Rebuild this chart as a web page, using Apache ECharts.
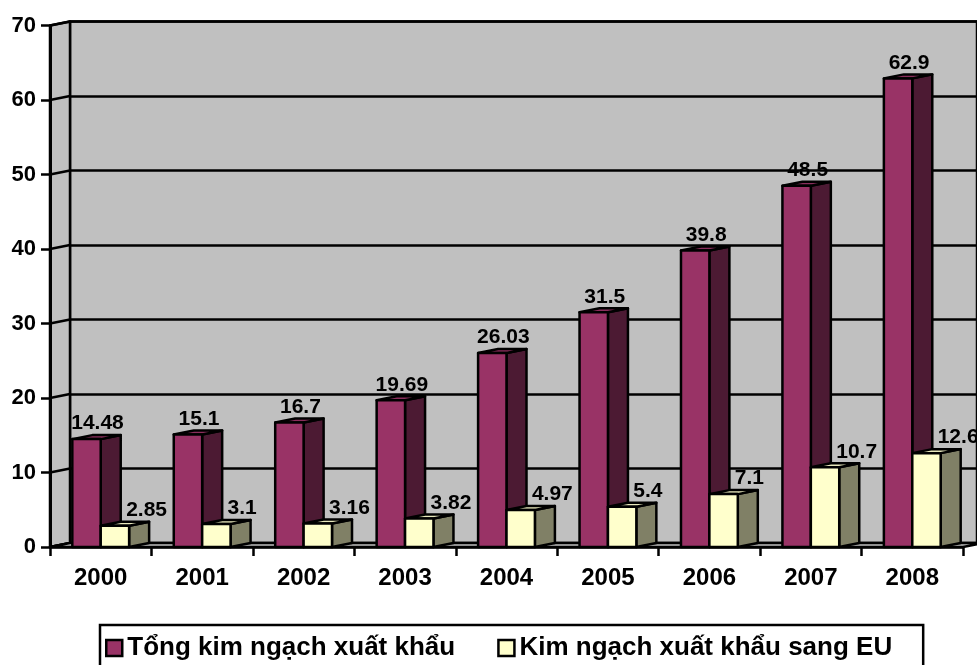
<!DOCTYPE html>
<html>
<head>
<meta charset="utf-8">
<script src="https://cdn.jsdelivr.net/npm/echarts@6/dist/echarts.min.js"></script>
<style>
  html, body { margin: 0; padding: 0; background: #fff; }
  #chart { width: 977px; height: 665px; }
</style>
</head>
<body>
<div id="chart"></div>
<script>
// Years on the category axis
const years = ['2000', '2001', '2002', '2003', '2004', '2005', '2006', '2007', '2008'];
// Total export turnover (billion USD)
const totalExport = [14.48, 15.1, 16.7, 19.69, 26.03, 31.5, 39.8, 48.5, 62.9];
// Export turnover to the EU (billion USD)
const euExport = [2.85, 3.1, 3.16, 3.82, 4.97, 5.4, 7.1, 10.7, 12.6];
// Value-axis ticks
const yTicks = [0, 10, 20, 30, 40, 50, 60, 70];

const seriesNames = ['Tổng kim ngạch xuất khẩu', 'Kim ngạch xuất khẩu sang EU'];

// Oblique projection offset used for the depth of walls and columns
const DX = 20, DY = -4;
const FONT = "'Liberation Sans', Arial, sans-serif";
const STROKE = { stroke: '#000', lineWidth: 2.5, lineJoin: 'round' };

const yMin = yTicks[0], yMax = yTicks[yTicks.length - 1];
const yStep = yTicks[1] - yTicks[0];

// Side wall, floor and the slanted tick connectors
function renderWalls(params, api) {
  const w = api.size([1, 0])[0];
  const first = api.coord([0, yMin]);
  const last = api.coord([years.length - 1, yMin]);
  const xl = first[0] - w / 2;
  const xr = last[0] + w / 2;
  const y0 = first[1];
  const yTop = api.coord([0, yMax])[1];
  const children = [];
  children.push({
    type: 'polygon',
    shape: { points: [[xl, yTop], [xl + DX, yTop + DY], [xl + DX, y0 + DY], [xl, y0]] },
    style: Object.assign({ fill: '#c0c0c0' }, STROKE)
  });
  yTicks.forEach(function (t) {
    const y = api.coord([0, t])[1];
    children.push({
      type: 'line',
      shape: { x1: xl, y1: y, x2: xl + DX, y2: y + DY },
      style: STROKE
    });
  });
  children.push({
    type: 'polygon',
    shape: { points: [[xl, y0], [xr, y0], [xr + DX, y0 + DY], [xl + DX, y0 + DY]] },
    style: Object.assign({ fill: '#c0c0c0' }, STROKE)
  });
  return { type: 'group', children: children };
}

// Column with front, side and top faces plus its value label
function makeColumnRenderer(leftOfCenter, colors, labelLeft) {
  return function (params, api) {
    const i = api.value(0);
    const v = api.value(1);
    const base = api.coord([i, 0]);
    const top = api.coord([i, v]);
    const w = api.size([1, 0])[0];
    const bw = w * 0.28;
    const x0 = leftOfCenter ? base[0] - bw : base[0];
    const x1 = x0 + bw;
    const yT = top[1], yB = base[1];
    const children = [
      {
        type: 'polygon',
        shape: { points: [[x1, yT], [x1 + DX, yT + DY], [x1 + DX, yB + DY], [x1, yB]] },
        style: Object.assign({ fill: colors.side }, STROKE)
      },
      {
        type: 'polygon',
        shape: { points: [[x0, yT], [x0 + DX, yT + DY], [x1 + DX, yT + DY], [x1, yT]] },
        style: Object.assign({ fill: colors.top }, STROKE)
      },
      {
        type: 'rect',
        shape: { x: x0, y: yT, width: bw, height: yB - yT },
        style: Object.assign({ fill: colors.front }, STROKE)
      },
      {
        type: 'text',
        style: {
          text: String(v),
          x: labelLeft ? x1 - 3 : (x0 + x1 + DX) / 2 + 1,
          y: yT + DY - 1,
          align: labelLeft ? 'left' : 'center',
          verticalAlign: 'bottom',
          fontFamily: FONT,
          fontWeight: 'bold',
          fontSize: 21,
          fill: '#000'
        }
      }
    ];
    return { type: 'group', children: children };
  };
}

const chart = echarts.init(document.getElementById('chart'), null, { renderer: 'canvas' });

const option = {
  animation: false,
  backgroundColor: '#fff',
  grid: [
    { left: 50, top: 25.5, width: 913, height: 521.5, show: false },
    { left: 70, top: 21.5, width: 913, height: 521.5, show: true,
      backgroundColor: '#c0c0c0', borderColor: '#000', borderWidth: 2.5 }
  ],
  xAxis: [
    {
      type: 'category', gridIndex: 0, data: years, z: 5,
      axisLine: { lineStyle: { color: '#000', width: 2.5 } },
      axisTick: { show: true, length: 9, lineStyle: { color: '#000', width: 2.5 } },
      axisLabel: { color: '#000', fontFamily: FONT, fontWeight: 'bold', fontSize: 24, margin: 19 },
      splitLine: { show: false }
    },
    {
      type: 'category', gridIndex: 1, data: years,
      axisLine: { show: false }, axisTick: { show: false }, axisLabel: { show: false },
      splitLine: { show: false }
    }
  ],
  yAxis: [
    {
      type: 'value', gridIndex: 0, min: yMin, max: yMax, interval: yStep, z: 5,
      axisLine: { show: true, lineStyle: { color: '#000', width: 3 } },
      axisTick: { show: true, length: 9, lineStyle: { color: '#000', width: 2.5 } },
      axisLabel: { color: '#000', fontFamily: FONT, fontWeight: 'bold', fontSize: 22, margin: 14 },
      splitLine: { show: false }
    },
    {
      type: 'value', gridIndex: 1, min: yMin, max: yMax, interval: yStep,
      axisLine: { show: false }, axisTick: { show: false }, axisLabel: { show: false },
      splitLine: { show: true, lineStyle: { color: '#000', width: 2.5 } }
    }
  ],
  legend: {
    data: seriesNames,
    left: 100, top: 625,
    icon: 'rect',
    itemWidth: 16, itemHeight: 16, itemGap: 42,
    padding: [10, 31, 12, 5],
    borderColor: '#000', borderWidth: 2.5,
    itemStyle: { borderColor: '#000', borderWidth: 2.5 },
    textStyle: { color: '#000', fontFamily: FONT, fontWeight: 'bold', fontSize: 26 }
  },
  series: [
    {
      name: 'walls', type: 'custom', xAxisIndex: 0, yAxisIndex: 0, z: 1,
      silent: true, renderItem: renderWalls, data: [[0, 0]]
    },
    {
      name: seriesNames[0], type: 'custom', xAxisIndex: 0, yAxisIndex: 0, z: 2,
      itemStyle: { color: '#993366' },
      encode: { x: 0, y: 1 },
      renderItem: makeColumnRenderer(true, { front: '#993366', side: '#4c1a33', top: '#8a2e5c' }, false),
      data: totalExport.map(function (v, i) { return [i, v]; })
    },
    {
      name: seriesNames[1], type: 'custom', xAxisIndex: 0, yAxisIndex: 0, z: 3,
      itemStyle: { color: '#ffffcc' },
      encode: { x: 0, y: 1 },
      renderItem: makeColumnRenderer(false, { front: '#ffffcc', side: '#808066', top: '#e8e8bc' }, true),
      data: euExport.map(function (v, i) { return [i, v]; })
    }
  ]
};

chart.setOption(option);
</script>
</body>
</html>
